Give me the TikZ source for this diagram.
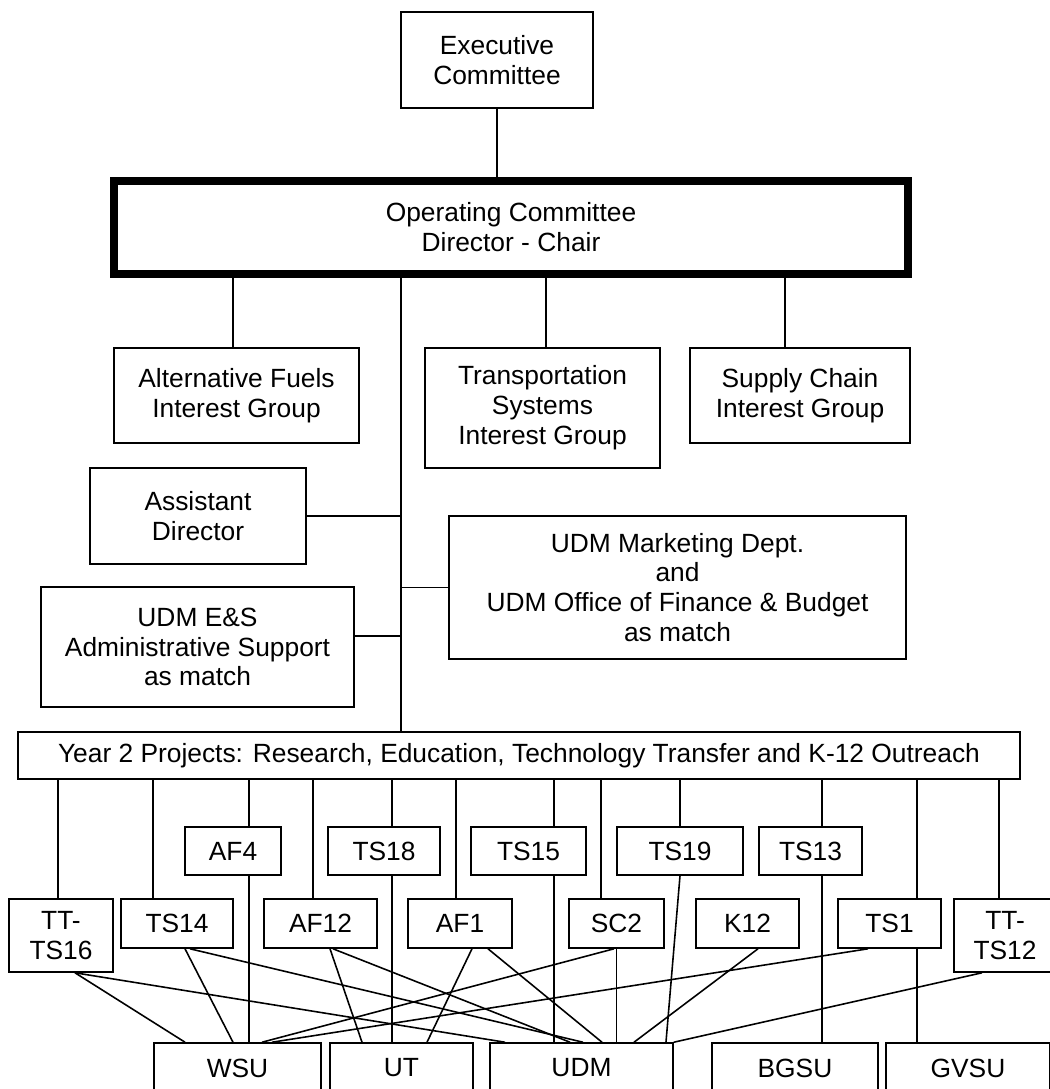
\documentclass[tikz,border=0pt]{standalone}
\usepackage{fontspec}
\setmainfont{Liberation Sans}
\usepackage{tikz}

\tikzset{
  box/.style={draw, rectangle, align=center, inner sep=0pt, line width=0.9pt,
    font=\fontsize{15}{17}\selectfont},
  proj/.style={box, minimum height=0.96cm},
  projlow/.style={box, minimum height=0.98cm},
  univ/.style={box, minimum height=1cm},
  link/.style={line width=0.9pt}
}

\begin{document}
\begin{tikzpicture}[x=0.02cm, y=-0.02cm]
\useasboundingbox (0,0) rectangle (1049,1089);
% committees
\node[box, minimum width=3.84cm, minimum height=1.92cm] (exec) at (497,60) {Executive\\Committee};
\node[box, line width=4.5pt, minimum width=15.88cm, minimum height=1.86cm] (opc) at (511,227.5) {Operating Committee\\Director - Chair};
\draw[link] (exec.south) -- (exec.south |- opc.north);
% interest groups
\node[box, minimum width=4.9cm, minimum height=1.9cm] (afig) at (236.5,395.5) {Alternative Fuels\\Interest Group};
\node[box, minimum width=4.7cm, minimum height=2.4cm] (tsig) at (542.5,408) {Transportation\\Systems\\Interest Group};
\node[box, minimum width=4.4cm, minimum height=1.9cm] (scig) at (800,395.5) {Supply Chain\\Interest Group};
\draw[link] ([xshift=-0.07cm]afig.north) -- ([xshift=-0.07cm]afig.north |- opc.south);
\draw[link] ([xshift=0.07cm]tsig.north) -- ([xshift=0.07cm]tsig.north |- opc.south);
\draw[link] ([xshift=-0.3cm]scig.north) -- ([xshift=-0.3cm]scig.north |- opc.south);
% staff and support
\node[box, minimum width=4.32cm, minimum height=1.92cm] (asst) at (198,516) {Assistant\\Director};
\node[box, minimum width=9.14cm, minimum height=2.86cm] (mkt) at (677.5,587.5) {UDM Marketing Dept.\\and\\UDM Office of Finance \& Budget\\as match};
\node[box, minimum width=6.26cm, minimum height=2.4cm] (es) at (197.5,647) {UDM E\&S\\Administrative Support\\as match};
\node[box, minimum width=20.04cm, minimum height=0.94cm] (year2) at (519,755.5) {Year 2 Projects: Research, Education, Technology Transfer and K-12 Outreach};
\coordinate (spine) at (401,0);
\draw[link] (opc.south -| spine) -- (year2.north -| spine);
\draw[link] (asst.east) -- (asst.east -| spine);
\draw[link] (mkt.west) -- (mkt.west -| spine);
\draw[link] ([yshift=0.22cm]es.east) -- ([yshift=0.22cm]es.east -| spine);
% projects, upper row
\node[proj, minimum width=1.92cm] (af4) at (233,851) {AF4};
\node[proj, minimum width=2.24cm] (ts18) at (384,851) {TS18};
\node[proj, minimum width=2.3cm] (ts15) at (528.5,851) {TS15};
\node[proj, minimum width=2.52cm] (ts19) at (680,851) {TS19};
\node[proj, minimum width=2.06cm] (ts13) at (810.5,851) {TS13};
% projects, lower row
\node[box, minimum width=2.08cm, minimum height=1.46cm] (tt16) at (61,935.5) {TT-\\TS16};
\node[projlow, minimum width=2.24cm] (ts14) at (177,923.5) {TS14};
\node[projlow, minimum width=2.26cm] (af12) at (320.5,923.5) {AF12};
\node[projlow, minimum width=2.08cm] (af1) at (460,923.5) {AF1};
\node[projlow, minimum width=1.9cm] (sc2) at (616.5,923.5) {SC2};
\node[projlow, minimum width=2.06cm] (k12) at (747.5,923.5) {K12};
\node[projlow, minimum width=2.06cm] (ts1) at (889.5,923.5) {TS1};
\node[box, minimum width=2.04cm, minimum height=1.46cm] (tt12) at (1005,935.5) {TT-\\TS12};
% universities
\node[univ, minimum width=3.34cm] (wsu) at (237.5,1068) {WSU};
\node[univ, minimum width=2.86cm] (ut) at (401.5,1068) {UT};
\node[univ, minimum width=3.66cm] (udm) at (581.5,1068) {UDM};
\node[univ, minimum width=3.32cm] (bgsu) at (795,1068) {BGSU};
\node[univ, minimum width=3.28cm] (gvsu) at (968,1068) {GVSU};
% drops from the projects bar
\draw[link] ([xshift=-0.06cm]tt16.north) -- ([xshift=-0.06cm]tt16.north |- year2.south);
\draw[link] ([xshift=-0.48cm]ts14.north) -- ([xshift=-0.48cm]ts14.north |- year2.south);
\draw[link] ([xshift=0.32cm]af4.north) -- ([xshift=0.32cm]af4.north |- year2.south);
\draw[link] ([xshift=0.32cm]af4.south) -- ([xshift=0.32cm]af4.south |- wsu.north);
\draw[link] ([xshift=-0.15cm]af12.north) -- ([xshift=-0.15cm]af12.north |- year2.south);
\draw[link] ([xshift=0.16cm]ts18.north) -- ([xshift=0.16cm]ts18.north |- year2.south);
\draw[link] ([xshift=0.16cm]ts18.south) -- ([xshift=0.16cm]ts18.south |- ut.north);
\draw[link] ([xshift=-0.08cm]af1.north) -- ([xshift=-0.08cm]af1.north |- year2.south);
\draw[link] ([xshift=0.51cm]ts15.north) -- ([xshift=0.51cm]ts15.north |- year2.south);
\draw[link] ([xshift=0.51cm]ts15.south) -- ([xshift=0.51cm]ts15.south |- udm.north);
\draw[link] ([xshift=-0.31cm]sc2.north) -- ([xshift=-0.31cm]sc2.north |- year2.south);
\draw[link] (sc2.south) -- (sc2.south |- udm.north);
\draw[link] (ts19.north) -- (ts19.north |- year2.south);
\draw[link] ([xshift=0.23cm]ts13.north) -- ([xshift=0.23cm]ts13.north |- year2.south);
\draw[link] ([xshift=0.23cm]ts13.south) -- ([xshift=0.23cm]ts13.south |- bgsu.north);
\draw[link] ([xshift=0.55cm]ts1.north) -- ([xshift=0.55cm]ts1.north |- year2.south);
\draw[link] ([xshift=0.55cm]ts1.south) -- ([xshift=0.55cm]ts1.south |- gvsu.north);
\draw[link] ([xshift=-0.12cm]tt12.north) -- ([xshift=-0.12cm]tt12.north |- year2.south);
% project to university links
\draw[link] ([xshift=0.28cm]tt16.south) -- ([xshift=-1.05cm]wsu.north);
\draw[link] ([xshift=0.28cm]tt16.south) -- ([xshift=-1.53cm]udm.north);
\draw[link] ([xshift=0.16cm]ts14.south) -- ([xshift=-0.09cm]wsu.north);
\draw[link] ([xshift=0.26cm]ts14.south) -- ([xshift=0.03cm]udm.north);
\draw[link] ([xshift=0.19cm]af12.south) -- ([xshift=-0.79cm]ut.north);
\draw[link] ([xshift=0.25cm]af12.south) -- ([xshift=-0.23cm]udm.north);
\draw[link] ([xshift=0.24cm]af1.south) -- ([xshift=0.51cm]ut.north);
\draw[link] ([xshift=0.56cm]af1.south) -- ([xshift=0.41cm]udm.north);
\draw[link] ([xshift=-0.05cm]sc2.south) -- ([xshift=0.49cm]wsu.north);
\draw[link] ([xshift=-0.43cm]ts1.south) -- ([xshift=0.69cm]wsu.north);
\draw[link] ([xshift=0.21cm]k12.south) -- ([xshift=1.05cm]udm.north);
\draw[link] (ts19.south) -- ([xshift=1.69cm]udm.north);
\draw[link] ([xshift=-0.46cm]tt12.south) -- (udm.north east);
\end{tikzpicture}
\end{document}
